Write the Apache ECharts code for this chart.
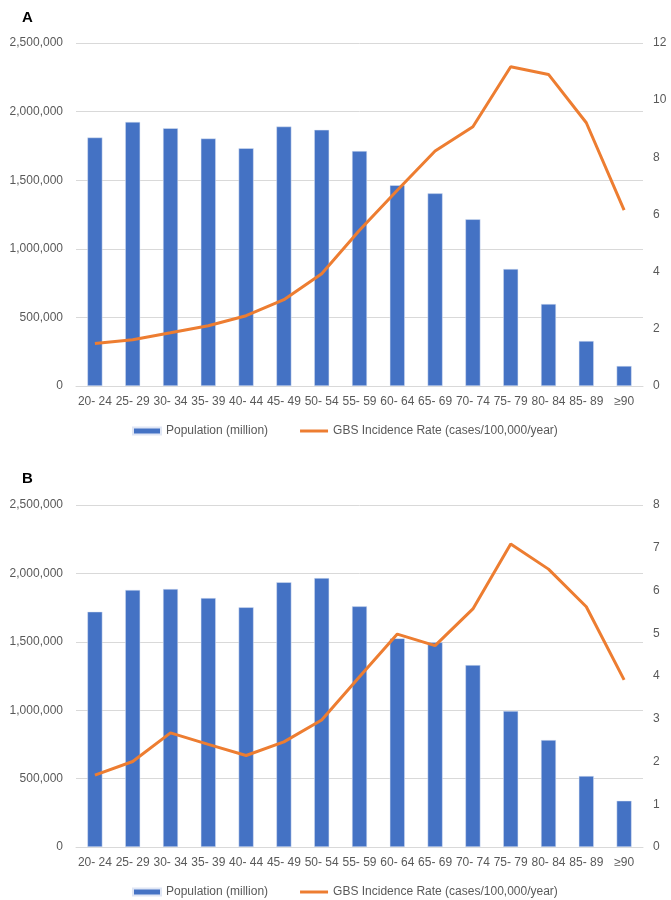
<!DOCTYPE html>
<html>
<head>
<meta charset="utf-8">
<script src="https://cdn.jsdelivr.net/npm/echarts@6/dist/echarts.min.js"></script>
<style>
html,body{margin:0;padding:0;background:#fff;}
#c{width:671px;height:900px;}
</style>
</head>
<body>
<div id="c"></div>
<script>
const categories = ['20- 24','25- 29','30- 34','35- 39','40- 44','45- 49','50- 54','55- 59','60- 64','65- 69','70- 74','75- 79','80- 84','85- 89','≥90'];
const populationA = [1811000,1925000,1879000,1804000,1733000,1891000,1867000,1713000,1463000,1404000,1215000,853000,598000,328000,146000];
const incidenceA = [1.49,1.62,1.86,2.11,2.46,3.02,3.93,5.45,6.85,8.22,9.07,11.17,10.9,9.21,6.15];
const populationB = [1720000,1879000,1886000,1820000,1752000,1935000,1966000,1759000,1525000,1496000,1330000,994000,782000,519000,338000];
const incidenceB = [1.68,2.00,2.67,2.40,2.14,2.46,2.97,3.98,4.98,4.71,5.57,7.09,6.50,5.62,3.91];
const barName = 'Population (million)';
const lineName = 'GBS Incidence Rate (cases/100,000/year)';

const font = 'Liberation Sans, Arial, sans-serif';
const gray = '#595959';
const blue = '#4472C4';
const orange = '#ED7D31';

function xAxis(gi){
  return {type:'category', gridIndex:gi, data:categories,
    axisLine:{show:true, lineStyle:{color:'#d9d9d9'}}, axisTick:{show:false},
    axisLabel:{interval:0, color:gray, fontSize:12, fontFamily:font, margin:10}};
}
function leftAxis(gi){
  return {type:'value', gridIndex:gi, min:0, max:2500000, interval:500000,
    axisLine:{show:false}, axisTick:{show:false},
    splitLine:{lineStyle:{color:'#d9d9d9', width:1}},
    axisLabel:{color:gray, fontSize:12, fontFamily:font, margin:13,
      formatter:v=>v.toLocaleString('en-US')}};
}
function rightAxis(gi,max,interval){
  return {type:'value', gridIndex:gi, position:'right', min:0, max:max, interval:interval,
    axisLine:{show:false}, axisTick:{show:false}, splitLine:{show:false},
    axisLabel:{color:gray, fontSize:12, fontFamily:font, margin:10}};
}
function legend(top){
  return {left:127, top:top, itemGap:32, itemWidth:28, itemHeight:7,
    textStyle:{color:gray, fontSize:12, fontFamily:font},
    data:[{name:barName, icon:'rect'},
          {name:lineName, icon:'path://M0,0 L30,0 L30,3.2 L0,3.2 Z', itemStyle:{color:orange}}]};
}

const chart = echarts.init(document.getElementById('c'));
chart.setOption({
  animation:false,
  backgroundColor:'#fff',
  title:[
    {text:'A', left:17, top:5, textStyle:{fontSize:15, fontWeight:'bold', color:'#000', fontFamily:font}},
    {text:'B', left:17, top:466, textStyle:{fontSize:15, fontWeight:'bold', color:'#000', fontFamily:font}}
  ],
  legend:[legend(420), legend(881)],
  grid:[
    {left:76, right:28, top:43, height:343},
    {left:76, right:28, top:505, height:342}
  ],
  xAxis:[xAxis(0), xAxis(1)],
  yAxis:[leftAxis(0), rightAxis(0,12,2), leftAxis(1), rightAxis(1,8,1)],
  series:[
    {name:barName, type:'bar', xAxisIndex:0, yAxisIndex:0, data:populationA, barWidth:15,
      itemStyle:{color:blue, borderColor:'#dfe6f5', borderWidth:0.5}},
    {name:lineName, type:'line', xAxisIndex:0, yAxisIndex:1, data:incidenceA, symbol:'none',
      lineStyle:{color:orange, width:3}, itemStyle:{color:orange}},
    {name:barName, type:'bar', xAxisIndex:1, yAxisIndex:2, data:populationB, barWidth:15,
      itemStyle:{color:blue, borderColor:'#dfe6f5', borderWidth:0.5}},
    {name:lineName, type:'line', xAxisIndex:1, yAxisIndex:3, data:incidenceB, symbol:'none',
      lineStyle:{color:orange, width:3}, itemStyle:{color:orange}}
  ]
});
</script>
</body>
</html>
